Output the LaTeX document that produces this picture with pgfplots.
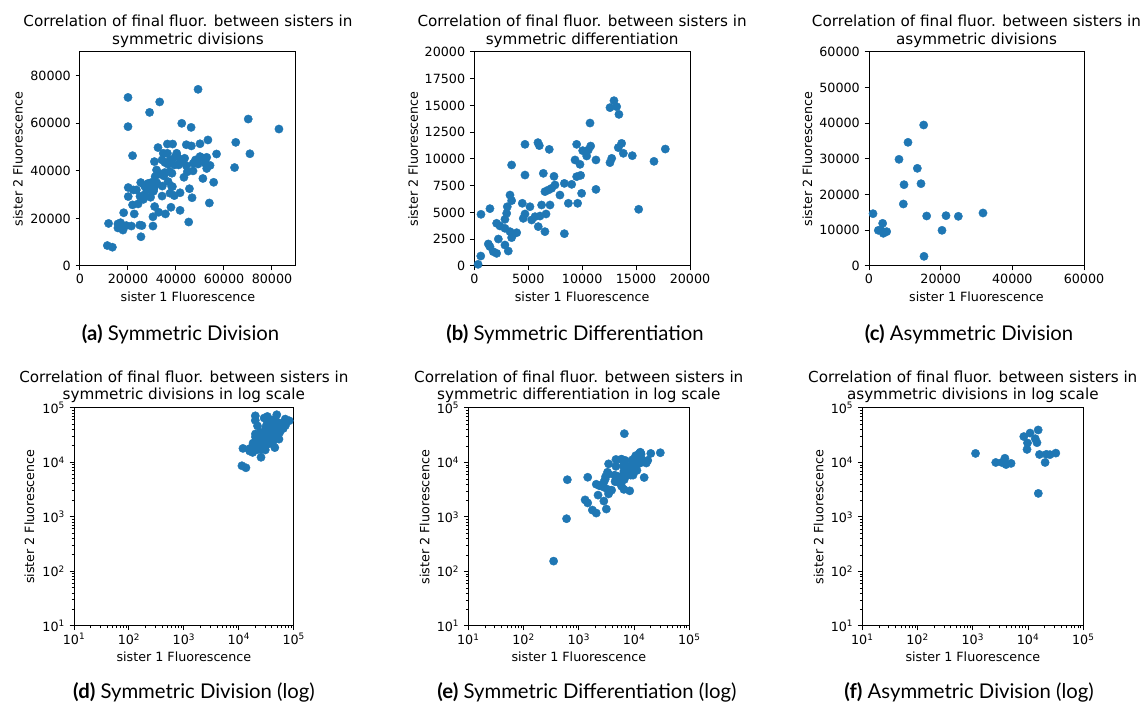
\documentclass[border=0pt]{standalone}
\usepackage{fontspec}
\usepackage{pgfplots}
\usepackage{pgfplotstable}
\pgfplotsset{compat=1.18}
\setmainfont{DejaVu Sans}
\newfontfamily\capfont{Lato}
\newcommand\ticksize{\fontsize{12.7}{15}\selectfont}
\newcommand\titlesize{\fontsize{15.2}{17.3}\selectfont}
\definecolor{mplblue}{HTML}{1F77B4}

% sister fluorescence pairs, symmetric divisions
\pgfplotstableread{
x y
20000 70900
33200 69000
49200 74300
29000 64600
20000 58600
42400 60000
46300 58300
70100 61800
82900 57600
64900 52000
70800 47200
64400 41400
21900 46400
53300 53000
50000 51400
46400 50500
44300 51000
36400 51300
38600 51300
32500 49800
56900 47100
55700 35200
53900 26500
45300 18500
41700 23400
46700 28700
45600 32500
43300 37300
51200 36800
49200 42900
50300 45700
52800 45700
54200 42300
52800 41000
52100 44600
50000 46000
47100 40000
48100 44600
47200 43200
44700 39600
41700 43500
40400 46300
42400 44600
44300 42200
39600 45800
39400 42500
37500 44600
36400 47400
35400 43500
34700 47400
40300 47400
34200 44600
31000 43900
31900 40400
36700 42800
38300 39000
34900 37900
36700 35500
38500 33400
34300 33600
31300 37600
32000 35000
31100 33400
30600 32000
29000 32000
27800 34100
26900 33600
25300 35100
23500 32000
22200 32000
20100 33000
20100 29200
21900 25700
24200 26100
26400 28000
29400 28900
34200 29400
39300 29600
41700 30800
37500 30600
38200 33400
26900 30000
28300 34700
29700 35100
33200 38700
35300 39300
37400 39700
41100 42500
43600 45300
52200 43200
37900 24700
35600 21900
32800 22600
30400 20700
31100 25000
30400 16800
22600 21900
18200 22400
25400 12300
11900 17900
15800 17700
17900 15100
15800 16000
21400 16800
24900 17200
25800 17000
11400 8600
13500 7900
16900 18200
19300 17000
17500 16800
25000 29300
27800 32100
30600 31400
}\symdiv

% sister fluorescence pairs, symmetric differentiation
\pgfplotstableread{
x y
12950 15450
12580 14800
13200 14890
13410 14170
10730 13360
20100 14670
4700 11370
5900 11530
6030 11250
6950 10900
3460 9440
4700 8500
6400 8660
7390 8380
9490 11370
10050 10780
10420 10280
10790 11210
10570 10840
9340 9910
9800 9500
11280 9910
12580 9660
12740 10060
13350 11060
13660 11460
13820 10530
14650 10310
16660 9780
17710 10930
15240 5300
11280 7160
9950 6790
9490 8350
9860 8470
8350 7720
9030 7630
7940 6630
8720 5860
9580 5860
8350 3020
7480 7570
7170 7260
6550 6950
6860 7100
6240 5700
7020 5700
6650 4860
6090 4670
5630 4610
5320 4300
5930 3680
6550 3210
4700 4860
4540 4450
4450 5860
5160 5540
3310 6630
3460 6110
3060 5540
3000 4920
2840 4360
1450 5360
620 4830
2070 3990
2380 3740
2840 3520
3310 3210
3620 2990
3930 3110
3460 2650
2230 2520
2840 1960
3150 1400
1300 2060
1450 1810
1760 1340
2070 1180
600 930
350 155
6670 33800
29900 15100
}\symdiff

% sister fluorescence pairs, asymmetric divisions
\pgfplotstableread{
x y
15260 39530
10880 34670
8370 29910
13490 27380
9770 22800
14510 23080
9580 17380
1120 14670
3810 11960
2600 10000
3350 10000
4000 9160
4930 9630
16090 14020
21490 14110
24930 13930
31810 14860
20370 10000
15350 2710
}\asymdiv

\pgfplotsset{
  mpl/.style={
    scale only axis,
    scaled ticks=false,
    axis line style={black, line width=1pt},
    tick pos=left,
    tick align=outside,
    major tick length=4.4pt,
    minor tick length=2.5pt,
    every tick/.style={black, line width=1pt},
    minor tick style={line width=0.76pt},
    tick label style={font=\ticksize, inner sep=0pt},
    xticklabel style={anchor=north, yshift=-3.2pt},
    yticklabel style={anchor=east, xshift=-4.6pt},
    label style={font=\ticksize, inner sep=0pt},
    xlabel={sister 1 Fluorescence},
    ylabel={sister 2 Fluorescence},
    title style={at={(axis description cs:0.5,1)}, anchor=south, inner sep=0pt,
      align=center, font=\titlesize},
  },
  dot/.style={only marks, mark=*, mark size=4.15pt, color=mplblue,
    mark options={draw=mplblue, fill=mplblue, line width=0.4pt}},
  labpos/.style 2 args={
    xlabel style={at={(axis description cs:0.5,#1)}, anchor=base},
    ylabel style={at={(axis description cs:#2,0.5)}, anchor=base},
  },
  logaxes/.style={
    xmin=10, xmax=100000, ymin=10, ymax=100000,
    xtick={10,100,1000,10000,100000},
    ytick={10,100,1000,10000,100000},
    xticklabels={10\textsuperscript{1},10\textsuperscript{2},10\textsuperscript{3},10\textsuperscript{4},10\textsuperscript{5}},
    yticklabels={10\textsuperscript{1},10\textsuperscript{2},10\textsuperscript{3},10\textsuperscript{4},10\textsuperscript{5}},
    minor xtick={20,30,40,50,60,70,80,90,200,300,400,500,600,700,800,900,2000,3000,4000,5000,6000,7000,8000,9000,20000,30000,40000,50000,60000,70000,80000,90000},
    minor ytick={20,30,40,50,60,70,80,90,200,300,400,500,600,700,800,900,2000,3000,4000,5000,6000,7000,8000,9000,20000,30000,40000,50000,60000,70000,80000,90000},
  },
}

\begin{document}
\begin{tikzpicture}
\fill[white] (0,0) rectangle (1143pt,706pt);
\path[use as bounding box] (0,0) rectangle (1143pt,706pt);

% (a) symmetric divisions, linear
\begin{axis}[mpl, at={(80pt,440pt)}, anchor=south west, width=216pt, height=214pt,
  labpos={-0.1668}{-0.266},
  title style={yshift=-1.6pt},
  title={Correlation of final fluor. between sisters in\\symmetric divisions},
  xmin=0, xmax=90000, ymin=0, ymax=90000,
  xtick={0,20000,40000,60000,80000}, xticklabels={0,20000,40000,60000,80000},
  ytick={0,20000,40000,60000,80000}, yticklabels={0,20000,40000,60000,80000}]
\addplot[dot] table {\symdiv};
\end{axis}

% (b) symmetric differentiation, linear
\begin{axis}[mpl, at={(474.3pt,440pt)}, anchor=south west, width=215.7pt, height=214pt,
  labpos={-0.1668}{-0.262},
  title style={yshift=-1.6pt},
  title={Correlation of final fluor. between sisters in\\symmetric differentiation},
  xmin=0, xmax=20000, ymin=0, ymax=20000,
  xtick={0,5000,10000,15000,20000}, xticklabels={0,5000,10000,15000,20000},
  ytick={0,2500,5000,7500,10000,12500,15000,17500,20000},
  yticklabels={0,2500,5000,7500,10000,12500,15000,17500,20000}]
\addplot[dot] table {\symdiff};
\end{axis}

% (c) asymmetric divisions, linear
\begin{axis}[mpl, at={(869pt,440pt)}, anchor=south west, width=215pt, height=214pt,
  labpos={-0.1668}{-0.264},
  title style={yshift=-1.6pt},
  title={Correlation of final fluor. between sisters in\\asymmetric divisions},
  xmin=0, xmax=60000, ymin=0, ymax=60000,
  xtick={0,20000,40000,60000}, xticklabels={0,20000,40000,60000},
  ytick={0,10000,20000,30000,40000,50000,60000},
  yticklabels={0,10000,20000,30000,40000,50000,60000}]
\addplot[dot] table {\asymdiv};
\end{axis}

% (d) symmetric divisions, log
\begin{loglogaxis}[mpl, logaxes, at={(74pt,80.3pt)}, anchor=south west, width=219.7pt, height=218pt,
  labpos={-0.165}{-0.181},
  title style={yshift=-1.0pt},
  title={Correlation of final fluor. between sisters in\\symmetric divisions in log scale}]
\addplot[dot] table {\symdiv};
\end{loglogaxis}

% (e) symmetric differentiation, log
\begin{loglogaxis}[mpl, logaxes, at={(468.3pt,80pt)}, anchor=south west, width=221pt, height=218pt,
  labpos={-0.165}{-0.176},
  title style={yshift=-1.0pt},
  title={Correlation of final fluor. between sisters in\\symmetric differentiation in log scale}]
\addplot[dot] table {\symdiff};
\end{loglogaxis}

% (f) asymmetric divisions, log
\begin{loglogaxis}[mpl, logaxes, at={(862.3pt,80pt)}, anchor=south west, width=221pt, height=218pt,
  labpos={-0.165}{-0.176},
  title style={yshift=-1.0pt},
  title={Correlation of final fluor. between sisters in\\asymmetric divisions in log scale}]
\addplot[dot] table {\asymdiv};
\end{loglogaxis}

% subfigure captions
\begin{scope}[every node/.style={anchor=base, inner sep=0pt, font=\capfont\fontsize{20.3}{24}\selectfont}]
\node at (180.5pt,365pt) {\textbf{(a)} Symmetric Division};
\node at (575pt,365pt) {\textbf{(b)} Symmetric Differentiation};
\node at (969pt,365pt) {\textbf{(c)} Asymmetric Division};
\node at (194pt,7pt) {\textbf{(d)} Symmetric Division (log)};
\node at (587pt,7pt) {\textbf{(e)} Symmetric Differentiation (log)};
\node at (969pt,7pt) {\textbf{(f)} Asymmetric Division (log)};
\end{scope}
\end{tikzpicture}
\end{document}
